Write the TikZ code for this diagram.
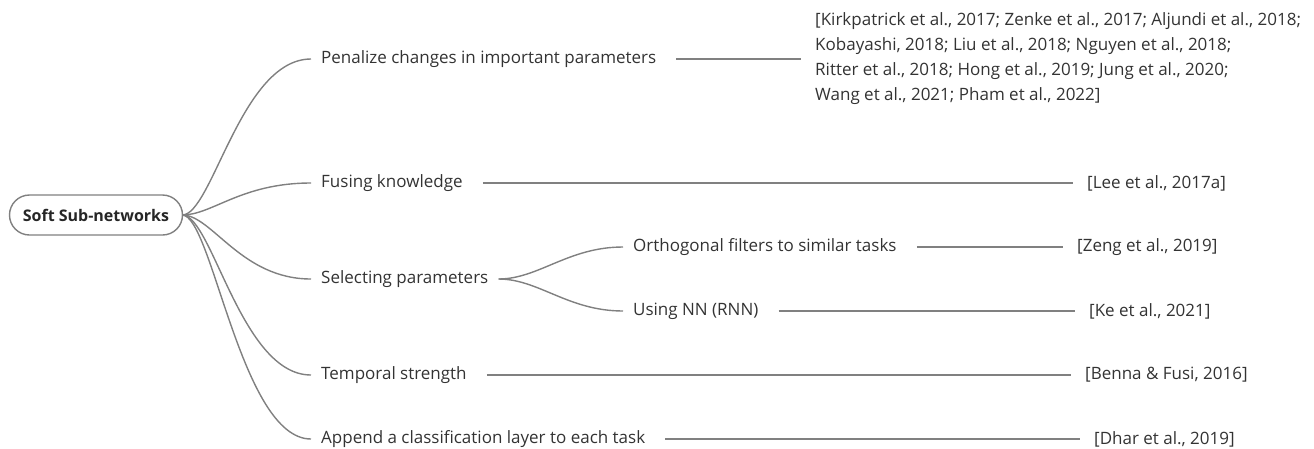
\documentclass[tikz,border=0pt]{standalone}
\usepackage{fontspec}
\setmainfont{Open Sans}
\usetikzlibrary{positioning}
\definecolor{linegray}{HTML}{808080}
\definecolor{textgray}{HTML}{333333}
\tikzstyle{branch} = [draw=linegray,line width=1.4pt]
\tikzstyle{topic} = [anchor=west,inner xsep=10pt,inner ysep=2pt,yshift=-2pt,text=textgray,font=\fontsize{17}{25}\selectfont]

\begin{document}
\begin{tikzpicture}[x=1pt,y=-1pt,
      root node/.style={draw=linegray,line width=1.4pt,rounded corners=20pt,fill=white,
        minimum width=173pt,minimum height=40pt,text=black!85,font=\fontsize{16}{18}\selectfont\bfseries},
      cite node/.style={topic,align=left}]
  \useasboundingbox (0,0) rectangle (1314,448);

  \node[root node] (SOFT) at (96,215) {Soft Sub-networks};

  % first level
  \node[topic] (PEN) at (311,57) {Penalize changes in important parameters};
  \node[topic] (FUS) at (311,181) {Fusing knowledge};
  \node[topic] (SEL) at (311,277) {Selecting parameters};
  \node[topic] (TEMP) at (311,373) {Temporal strength};
  \node[topic] (APP) at (311,437) {Append a classification layer to each task};

  % second level
  \node[topic] (ORTH) at (623,245) {Orthogonal filters to similar tasks};
  \node[topic] (USE) at (623,309) {Using NN (RNN)};

  % references
  \node[cite node] (PENREF) at (805,57) {[Kirkpatrick et al., 2017; Zenke et al., 2017; Aljundi et al., 2018;\\
    Kobayashi, 2018; Liu et al., 2018; Nguyen et al., 2018;\\
    Ritter et al., 2018; Hong et al., 2019; Jung et al., 2020;\\
    Wang et al., 2021; Pham et al., 2022]};
  \node[cite node] (FUSREF) at (1077,181) {[Lee et al., 2017a]};
  \node[cite node] (ORTHREF) at (1067,245) {[Zeng et al., 2019]};
  \node[cite node] (USEREF) at (1079,309) {[Ke et al., 2021]};
  \node[cite node] (TEMPREF) at (1075,373) {[Benna \& Fusi, 2016]};
  \node[cite node] (APPREF) at (1084,437) {[Dhar et al., 2019]};

  \foreach \n in {PEN,FUS,SEL,TEMP,APP}{\draw[branch] ([xshift=-1pt]SOFT.east) .. controls +(30,0) and +(-70,0) .. (\n.west);}
  \foreach \n in {ORTH,USE}{\draw[branch] (SEL.east) .. controls +(40,0) and +(-55,0) .. (\n.west);}
  \foreach \n in {PEN,FUS,ORTH,USE,TEMP,APP}{\draw[branch] ([xshift=10pt]\n.east) -- ([xshift=-4pt]\n REF.west);}
\end{tikzpicture}
\end{document}
